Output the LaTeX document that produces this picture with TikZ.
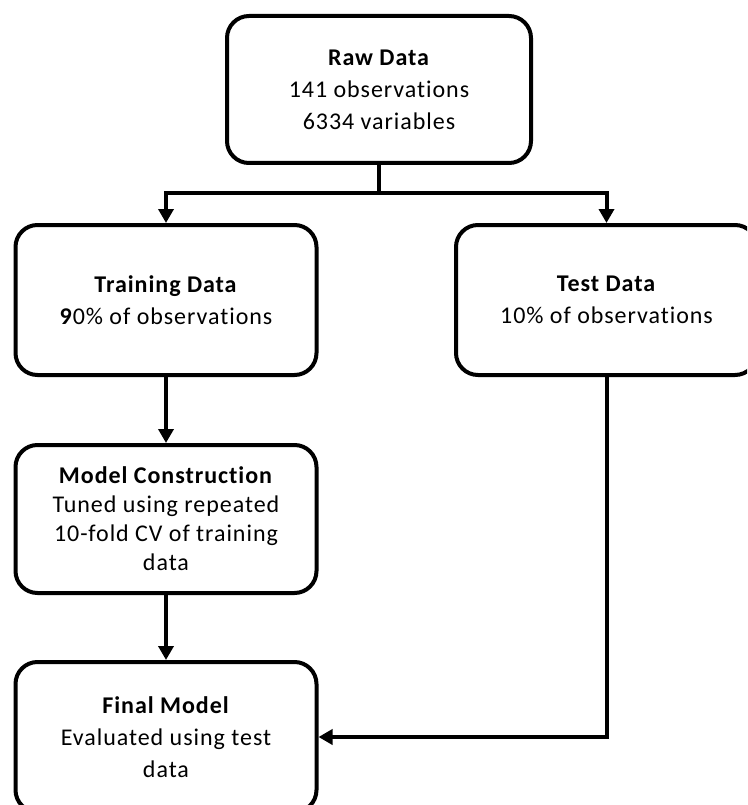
\documentclass[tikz,border=0pt]{standalone}
\usepackage{fontspec}
\setmainfont[Ligatures={NoCommon},LetterSpace=4]{Carlito}
\usetikzlibrary{arrows.meta}
\tikzset{
  box/.style={draw=black, line width=4pt, rounded corners=22pt, fill=white,
    minimum width=301pt, minimum height=150pt, align=center, inner sep=0pt,
    font=\fontsize{24pt}{32pt}\selectfont},
  conn/.style={line width=4pt, -{Triangle[length=14pt,width=15pt]}},
  plain/.style={line width=4pt}
}
\begin{document}
\begin{tikzpicture}[x=1pt,y=-1pt]
\useasboundingbox (0,0) rectangle (747,805);
\clip (0,0) rectangle (747,805);
\node[box, minimum width=304pt, minimum height=147pt] (raw) at (379,89.5)
  {\textbf{Raw Data}\\141 observations\\6334 variables};
\node[box] (train) at (166,300)
  {\textbf{Training Data}\\\textbf{9}0\% of observations};
\node[box] (test) at (606.5,300)
  {\textbf{Test Data}\\10\% of observations};
\node[box, minimum height=148pt, font=\fontsize{24pt}{29pt}\selectfont] (model) at (166,519)
  {\textbf{Model Construction}\\Tuned using repeated\\10-fold CV of training\\data};
\node[box] (final) at (166,737)
  {\textbf{Final Model}\\Evaluated using test\\data};
\coordinate (split) at (379,193);
\draw[plain] (raw.south) -- (split);
\draw[conn] (split) -| (train.north);
\draw[conn] (split) -| (test.north);
\draw[conn] (train) -- (model);
\draw[conn] (model) -- (final);
\draw[conn] (test.south) |- (final.east);
\end{tikzpicture}
\end{document}
